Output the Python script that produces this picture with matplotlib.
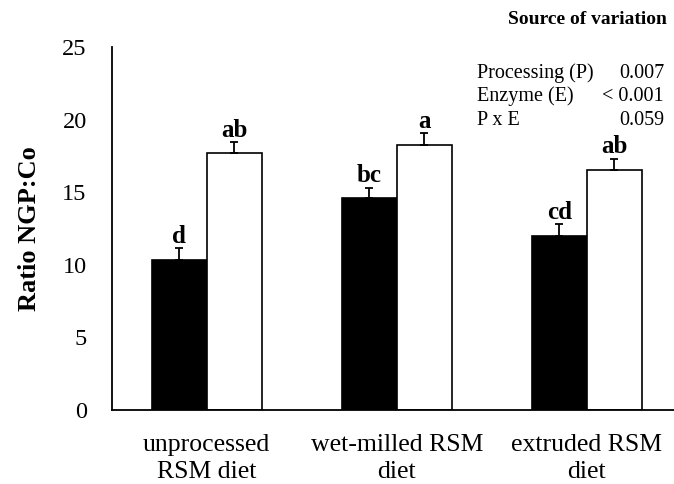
#!/usr/bin/env python3
import numpy as np
from matplotlib import pyplot as plt

plt.rcParams['font.family'] = 'Liberation Serif'

# %% data
diets = ['unprocessed\nRSM diet', 'wet-milled RSM\ndiet', 'extruded RSM\ndiet']
black_vals = [10.3, 14.6, 12.0]
black_err = [0.85, 0.7, 0.8]
white_vals = [17.7, 18.25, 16.5]
white_err = [0.75, 0.8, 0.8]
black_letters = ['d', 'bc', 'cd']
white_letters = ['ab', 'a', 'ab']
stat_names = ['Processing (P)', 'Enzyme (E)', 'P x E']
stat_p = ['0.007', '< 0.001', '0.059']

# %% plot
fig = plt.figure(figsize=(6.74, 4.84), dpi=100)
ax = fig.add_axes([111.7 / 674, 74 / 484, 570 / 674, 363 / 484])

x = np.arange(len(diets))
w = 0.29
ax.bar(x - w / 2, black_vals, w, color='black', edgecolor='black', linewidth=1.2,
       yerr=[np.zeros(3), black_err], capsize=3, error_kw=dict(elinewidth=1.3, capthick=1.3, ecolor='black'))
ax.bar(x + w / 2, white_vals, w, color='white', edgecolor='black', linewidth=1.2,
       yerr=[np.zeros(3), white_err], capsize=3, error_kw=dict(elinewidth=1.3, capthick=1.3, ecolor='black'))

for i in range(len(diets)):
    ax.annotate(black_letters[i], (x[i] - w / 2, black_vals[i] + black_err[i]),
                xytext=(0, 4), textcoords='offset points', ha='center', va='baseline',
                fontsize=18, fontweight='bold')
    ax.annotate(white_letters[i], (x[i] + w / 2, white_vals[i] + white_err[i]),
                xytext=(0, 4), textcoords='offset points', ha='center', va='baseline',
                fontsize=18, fontweight='bold')

ax.set_xlim(-0.5, 2.5)
ax.set_ylim(0, 25)
ax.set_yticks(range(0, 26, 5))
ax.set_yticklabels(range(0, 26, 5), fontsize=17.5)
ax.set_xticks(x)
ax.set_xticklabels(diets, fontsize=18.5, linespacing=1.3)
ax.tick_params(axis='both', length=0)
ax.tick_params(axis='y', pad=18)
ax.tick_params(axis='x', pad=17)
ax.set_ylabel('Ratio NGP:Co', fontsize=19, fontweight='bold', labelpad=15)
for s in ['top', 'right']:
    ax.spines[s].set_visible(False)
for s in ['left', 'bottom']:
    ax.spines[s].set_linewidth(1.3)

# source of variation box
fig.text(667 / 674, 1 - 20 / 484, 'Source of variation', ha='right', va='center',
         fontsize=14, fontweight='bold')
for k in range(len(stat_names)):
    yy = 1 - (73 + 23.5 * k) / 484
    fig.text(477 / 674, yy, stat_names[k], ha='left', va='center', fontsize=14.5)
    fig.text(664 / 674, yy, stat_p[k], ha='right', va='center', fontsize=14.5)

plt.savefig('out.png', dpi=100)
